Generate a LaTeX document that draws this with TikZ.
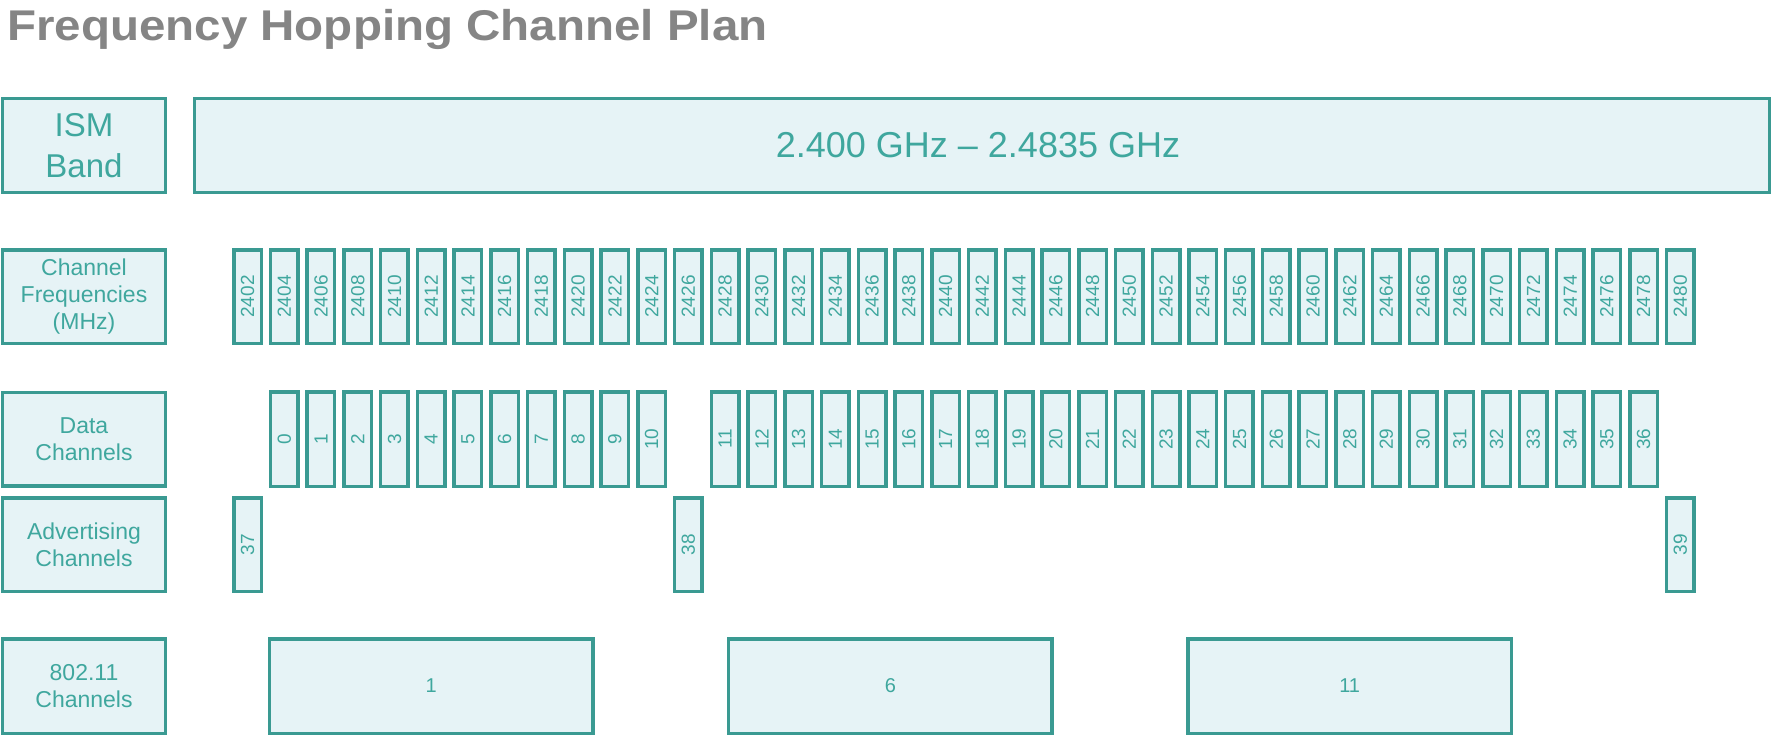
\documentclass[tikz,border=0pt]{standalone}
\usepackage{fontspec}
\setmainfont{Liberation Sans}
\definecolor{tealline}{HTML}{3A9A92}
\definecolor{tealtext}{HTML}{3FA79E}
\definecolor{boxfill}{HTML}{E6F3F6}
\definecolor{titlegray}{HTML}{858585}
\begin{document}
\begin{tikzpicture}[x=1bp,y=-1bp,
  box/.style={draw=tealline, fill=boxfill, line width=3.5bp, inner sep=0pt, text=tealtext},
  cell/.style={box, minimum width=27.5bp, minimum height=93.5bp, font=\fontsize{19bp}{19bp}\selectfont},
  rowlabel/.style={box, minimum width=162.5bp, minimum height=93.5bp, align=center, font=\fontsize{23bp}{27bp}\selectfont},
  wifi/.style={box, minimum width=323.5bp, minimum height=94.5bp, font=\fontsize{20bp}{20bp}\selectfont},
  titletext/.style={anchor=base west, inner sep=0pt, text=titlegray, font=\fontsize{43bp}{43bp}\selectfont\bfseries}]
\useasboundingbox (0,0) rectangle (1783,751);
\fill[white] (0,0) rectangle (1783,751);
% title
\node[titletext] (title) at (7,41) {\scalebox{1.105}[1]{Frequency Hopping Channel Plan}};
% row labels
\node[rowlabel, font=\fontsize{33bp}{41bp}\selectfont] (ism) at (84,145.5) {ISM\\Band};
\node[rowlabel] (cf) at (84,296.5) {Channel\\Frequencies\\(MHz)};
\node[rowlabel] (dc) at (84,439) {Data\\Channels};
\node[rowlabel] (ac) at (84,544.5) {Advertising\\Channels};
\node[rowlabel, minimum height=94.5bp] (wl) at (84,686) {802.11\\Channels};
% ISM band
\node[box, minimum width=1574.5bp, minimum height=93.5bp] (band) at (982,145.5) {};
\node[inner sep=0pt, text=tealtext, font=\fontsize{36bp}{36bp}\selectfont] (bandtext) at ([xshift=-4bp]band.center) {2.400 GHz -- 2.4835 GHz};
% channel frequencies
\foreach \i in {0,...,39} {
  \pgfmathsetmacro\fx{247.5+36.74*\i}
  \pgfmathtruncatemacro\fq{2402+2*\i}
  \node[cell] (f\i) at (\fx,296.5) {\rotatebox{90}{\fq}};
}
% data channels 0-10
\foreach \k in {0,...,10} {
  \pgfmathsetmacro\fx{247.5+36.74*(\k+1)}
  \node[cell, minimum height=94.5bp] (d\k) at (\fx,439) {\rotatebox{90}{\k}};
}
% data channels 11-36
\foreach \k in {11,...,36} {
  \pgfmathsetmacro\fx{247.5+36.74*(\k+2)}
  \node[cell, minimum height=94.5bp] (d\k) at (\fx,439) {\rotatebox{90}{\k}};
}
% advertising channels
\foreach \k/\i in {37/0,38/12,39/39} {
  \pgfmathsetmacro\fx{247.5+36.74*\i}
  \node[cell] (a\k) at (\fx,544.5) {\rotatebox{90}{\k}};
}
% 802.11 channels
\foreach \c/\f in {1/2412,6/2437,11/2462} {
  \pgfmathsetmacro\fx{247.5+18.37*(\f-2402)}
  \node[wifi] (w\c) at (\fx,686) {\c};
}
\end{tikzpicture}
\end{document}
